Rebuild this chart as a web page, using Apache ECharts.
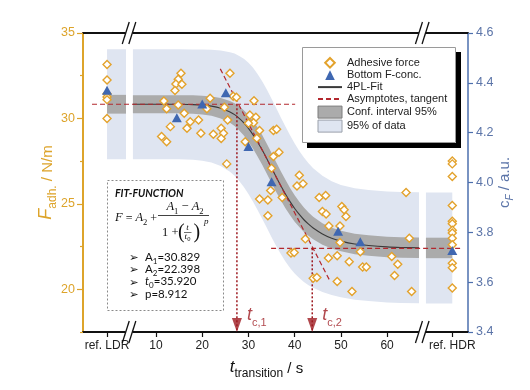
<!DOCTYPE html>
<html><head><meta charset="utf-8">
<script src="https://cdn.jsdelivr.net/npm/echarts@6/dist/echarts.min.js"></script>
<style>html,body{margin:0;padding:0;background:#fff}#c{width:530px;height:390px}</style>
</head><body><div id="c"></div>
<script>
// ---- tick labels ----
const xTickValues = [-0.6, 10, 20, 30, 40, 50, 60, 74.1];
const xTickLabels = ['ref. LDR', '10', '20', '30', '40', '50', '60', 'ref. HDR'];
const yLeftTicks = [20, 25, 30, 35];
const yLeftMinor = [17.5, 22.5, 27.5, 32.5];
const tLDR = -0.6, tHDR = 74.1;
const breakT = [4.16, 67.6];

// ---- adhesive force (N/m) ----
const forceLDR = [33.15, 32.25, 31.45, 31.25, 31.1, 30.0];
const forceHDR = [27.51, 27.34, 26.60, 24.90, 23.98, 23.83, 23.45, 23.30, 22.99, 22.60, 21.52, 21.26, 20.07];
const forceT = [11.7,12.3,14.8,16.1,13.1,11.2,12.3,15.4,14.8,14.3,15.6,14.1,17.4,16.7,19.2,19.7,21.7,21.0,22.4,24.1,24.6,24.1,25.3,26.0,26.7,27.4,31.2,24.8,25.5,30.3,31.6,31.1,30.0,32.4,31.8,29.3,35.4,36.1,35.4,36.6,35.0,41.0,40.5,41.8,34.8,32.4,34.2,37.3,34.2,45.3,46.7,46.0,46.8,50.2,50.7,51.1,47.4,49.8,49.8,42.3,39.2,39.9,47.3,49.2,51.8,54.7,55.5,44.0,44.8,49.2,52.4,64.1,64.8,54.2,61.0,62.3,61.6,65.3];
const forceF = [31.02,30.56,30.79,30.30,29.52,28.94,28.64,32.64,32.29,32.02,32.00,31.63,29.80,29.43,29.91,29.13,31.18,30.56,29.08,29.43,29.13,28.82,27.34,32.64,31.30,31.24,31.04,30.65,29.91,30.20,30.07,29.75,29.72,29.29,28.84,28.64,29.29,29.37,27.77,28.02,27.09,26.68,26.05,26.17,25.78,25.29,25.23,25.37,24.30,25.37,25.49,24.55,24.40,24.84,24.65,24.26,23.71,23.71,22.74,22.95,22.12,22.15,21.83,21.96,21.61,21.30,21.30,20.65,20.69,20.46,19.87,25.66,22.99,22.19,21.92,21.47,20.81,19.87];

// ---- bottom F concentration (a.u.) ----
const concT = [-0.6, 14.5, 20.0, 25.1, 30.0, 35.0, 49.4, 54.2, 74.1];
const concC = [4.37, 4.26, 4.315, 4.36, 4.144, 4.003, 3.804, 3.762, 3.727];

// ---- 4PL fit curve and bands ----
const fitT = [5,10,15,18,20,22,24,26,27,28,29,30,31,32,33,34,35,36,37,38,39,40,41,42,43,44,46,48,50,53,56,60,63,66.9];
const fitF = [30.83,30.83,30.83,30.81,30.78,30.72,30.60,30.38,30.22,30.00,29.74,29.42,29.04,28.61,28.14,27.63,27.10,26.57,26.06,25.58,25.13,24.73,24.38,24.07,23.81,23.59,23.24,22.99,22.82,22.65,22.56,22.48,22.45,22.43];
const confHalf = [0.53,0.53,0.53,0.54,0.55,0.57,0.60,0.64,0.67,0.70,0.74,0.78,0.82,0.85,0.87,0.88,0.88,0.87,0.85,0.83,0.80,0.77,0.74,0.71,0.68,0.66,0.63,0.61,0.60,0.60,0.60,0.60,0.60,0.60];
const predHalf = [3.22,3.22,3.22,3.23,3.25,3.30,3.38,3.50,3.58,3.66,3.75,3.84,3.92,3.98,4.02,4.05,4.05,4.04,4.00,3.95,3.88,3.80,3.72,3.64,3.57,3.50,3.40,3.33,3.29,3.26,3.25,3.25,3.25,3.25];
const ldrSpan = [-0.6, 3.5], hdrSpan = [68.4, 74.1];
const ldrLevel = 30.83, hdrLevel = 22.42;
const ldrConfHalf = 0.55, hdrConfHalf = 0.6, ldrPredHalf = 3.22, hdrPredHalf = 3.25;

// ---- asymptotes, tangent, transition times ----
const asymUpper = 30.829, asymLower = 22.398;
const asymUpperSpan = [-3.85, 40.1], asymLowerSpan = [34.9, 76.2];
const tangentT = [23.9, 47.7], tangentF = [32.9, 20.45];
const tcT = [27.5, 43.8];
const tcNames = ['c,1', 'c,2'];

// ---- colours ----
const cOrange = '#E3A22C', cOrangeAxis = '#DDA42B', cBlue = '#3F67B1', cBlueAxis = '#4D6FAE', cBlueText = '#5B74A8';
const cRed = '#B3282E', cDarkRed = '#9E1A20';

function rectPoly(span, level, half) {
  return [[span[0], level - half], [span[1], level - half], [span[1], level + half], [span[0], level + half]];
}
function curvePoly(half) {
  const up = fitT.map((t, i) => [t, fitF[i] + half[i]]);
  const lo = fitT.map((t, i) => [t, fitF[i] - half[i]]).reverse();
  return up.concat(lo);
}
const predPolys = [rectPoly(ldrSpan, ldrLevel, ldrPredHalf), curvePoly(predHalf), rectPoly(hdrSpan, hdrLevel, hdrPredHalf)];
const confPolys = [rectPoly(ldrSpan, ldrLevel, ldrConfHalf), curvePoly(confHalf), rectPoly(hdrSpan, hdrLevel, hdrConfHalf)];

function bandSeries(name, polys, fill) {
  return {
    type: 'custom', name, coordinateSystem: 'cartesian2d', xAxisIndex: 0, yAxisIndex: 0,
    itemStyle: { color: fill }, silent: true, clip: false,
    data: polys.map(p => [p[0][0], p[0][1]]),
    renderItem: (params, api) => ({
      type: 'polygon',
      shape: { points: polys[params.dataIndex].map(pt => api.coord(pt)) },
      style: { fill: fill, stroke: null }
    })
  };
}

const forceData = forceLDR.map(f => [tLDR, f]).concat(forceT.map((t, i) => [t, forceF[i]])).concat(forceHDR.map(f => [tHDR, f]));
const concData = concT.map((t, i) => [t, concC[i]]);

const font = 'Liberation Sans';
const chart = echarts.init(document.getElementById('c'), null, { renderer: 'canvas' });

const dashed = { color: cRed, width: 1.2, type: [5, 3] };

const option = {
  animation: false,
  backgroundColor: '#fff',
  grid: { left: 83, right: 62, top: 33, bottom: 58 },
  xAxis: [{
    type: 'value', min: -5.8, max: 77.5,
    axisLine: { show: true, onZero: false, lineStyle: { color: '#111', width: 1.8 } },
    axisTick: { show: true, customValues: xTickValues, length: 5, lineStyle: { color: '#111', width: 1.2 } },
    axisLabel: { customValues: xTickValues, margin: 8, fontFamily: font, fontSize: 12, color: '#222',
      formatter: v => { const i = xTickValues.findIndex(x => Math.abs(x - v) < 1e-6); return i >= 0 ? xTickLabels[i] : ''; } },
    splitLine: { show: false },
    name: '{t|t}{s|transition}{n| / s}', nameLocation: 'middle', nameGap: 27, nameMoveOverlap: false,
    nameTextStyle: { padding: [0, 18, 0, 0], rich: {
      t: { fontFamily: font, fontStyle: 'italic', fontSize: 17, color: '#111', padding: [0, 0, 4, 0], verticalAlign: 'bottom' },
      s: { fontFamily: font, fontSize: 12, color: '#111', verticalAlign: 'bottom' },
      n: { fontFamily: font, fontSize: 15, color: '#111', padding: [0, 0, 4, 0], verticalAlign: 'bottom' } } }
  }, {
    type: 'value', min: -5.8, max: 77.5, position: 'top',
    axisLine: { show: true, onZero: false, lineStyle: { color: '#111', width: 1.8 } },
    axisTick: { show: false }, axisLabel: { show: false }, splitLine: { show: false }
  }],
  yAxis: [{
    type: 'value', min: 17.5, max: 35, position: 'left',
    axisLine: { show: true, onZero: false, lineStyle: { color: cOrangeAxis, width: 2 } },
    axisTick: { show: true, customValues: yLeftTicks, length: 6, lineStyle: { color: cOrangeAxis, width: 1.2 } },
    axisLabel: { customValues: yLeftTicks, margin: 8, fontFamily: font, fontSize: 12.5, color: cOrangeAxis },
    splitLine: { show: false },
    name: '{f|F}{s|adh.}{n| / N/m}', nameLocation: 'middle', nameRotate: 90, nameGap: 24, nameMoveOverlap: false,
    nameTextStyle: { rich: {
      f: { fontFamily: font, fontStyle: 'italic', fontSize: 18, color: cOrangeAxis, padding: [0, 0, 4, 0], verticalAlign: 'bottom' },
      s: { fontFamily: font, fontSize: 12, color: cOrangeAxis, verticalAlign: 'bottom' },
      n: { fontFamily: font, fontSize: 15, color: cOrangeAxis, padding: [0, 0, 4, 0], verticalAlign: 'bottom' } } }
  }, {
    type: 'value', min: 3.4, max: 4.6, interval: 0.2, position: 'right',
    axisLine: { show: true, onZero: false, lineStyle: { color: cBlueAxis, width: 1.5 } },
    axisTick: { show: true, length: 5, lineStyle: { color: cBlueAxis, width: 1.2 } },
    axisLabel: { margin: 8, fontFamily: font, fontSize: 12.5, color: cBlueText, formatter: v => v.toFixed(1) },
    splitLine: { show: false },
    name: '{c|c}{s|F}{n| / a.u.}', nameLocation: 'middle', nameRotate: 90, nameGap: 29, nameMoveOverlap: false,
    nameTextStyle: { rich: {
      c: { fontFamily: font, fontSize: 15, color: cBlueText, padding: [0, 0, 3, 0], verticalAlign: 'bottom' },
      s: { fontFamily: font, fontStyle: 'italic', fontSize: 10, color: cBlueText, verticalAlign: 'bottom' },
      n: { fontFamily: font, fontSize: 15, color: cBlueText, padding: [0, 0, 3, 0], verticalAlign: 'bottom' } } }
  }, {
    type: 'value', min: 17.5, max: 35, position: 'left',
    axisLine: { show: false, onZero: false },
    axisTick: { show: true, customValues: yLeftMinor, length: 3, lineStyle: { color: cOrangeAxis, width: 1.2 } },
    axisLabel: { show: false }, splitLine: { show: false }
  }],
  legend: {
    left: 302, top: 47, orient: 'vertical', z: 20,
    itemWidth: 24, itemHeight: 12, itemGap: 1,
    padding: [10, 8, 8, 15],
    backgroundColor: 'rgba(0,0,0,0)', borderWidth: 0,
    textStyle: { fontFamily: font, fontSize: 11, color: '#222' },
    selectedMode: false,
    data: [
      { name: 'Adhesive force' },
      { name: 'Bottom F-conc.' },
      { name: '4PL-Fit', itemStyle: { opacity: 0 } },
      { name: 'Asymptotes, tangent', itemStyle: { opacity: 0 } },
      { name: 'Conf. interval 95%', icon: 'rect', itemStyle: { color: '#ababab', borderColor: '#7c7c7c', borderWidth: 1, opacity: 1 } },
      { name: '95% of data', icon: 'rect', itemStyle: { color: '#dfe5f1', borderColor: '#9aa0aa', borderWidth: 1, opacity: 1 } }
    ]
  },
  series: [
    bandSeries('95% of data', predPolys, '#DFE5F1'),
    bandSeries('Conf. interval 95%', confPolys, '#ABABAB'),
    { type: 'line', name: '4PL-Fit', data: fitT.map((t, i) => [t, fitF[i]]), smooth: 0.3, symbol: 'none',
      lineStyle: { color: '#3a3a3a', width: 1.1 }, itemStyle: { color: '#3a3a3a' }, silent: true },
    { type: 'line', name: 'Asymptotes, tangent', data: asymUpperSpan.map(t => [t, asymUpper]), symbol: 'none', lineStyle: dashed, itemStyle: { color: cRed }, silent: true },
    { type: 'line', name: 'Asymptotes, tangent', data: asymLowerSpan.map(t => [t, asymLower]), symbol: 'none', lineStyle: dashed, itemStyle: { color: cRed }, silent: true },
    { type: 'line', name: 'Asymptotes, tangent', data: tangentT.map((t, i) => [t, tangentF[i]]), symbol: 'none', lineStyle: dashed, itemStyle: { color: cRed }, silent: true },
    { type: 'line', name: 'tc1', data: [[tcT[0], asymUpper], [tcT[0], 17.5]], symbol: 'none', lineStyle: { color: cDarkRed, width: 1.5, type: [2, 2] }, silent: true },
    { type: 'line', name: 'tc2', data: [[tcT[1], asymLower], [tcT[1], 17.5]], symbol: 'none', lineStyle: { color: cDarkRed, width: 1.5, type: [2, 2] }, silent: true },
    { type: 'scatter', name: 'tc-arrows', silent: true, clip: false,
      symbol: 'path://M0,0L10,0L5,14Z', symbolSize: [10, 14], symbolKeepAspect: false, symbolOffset: [0, -7],
      itemStyle: { color: cDarkRed },
      data: tcT.map((t, i) => ({ value: [t, 17.5], label: { formatter: '{t|t}{s|' + tcNames[i] + '}' } })),
      label: { show: true, position: 'right', distance: 5, offset: [0, -8], rich: {
        t: { fontFamily: font, fontStyle: 'italic', fontSize: 18, color: cDarkRed, padding: [0, 0, 4, 0], verticalAlign: 'bottom' },
        s: { fontFamily: font, fontSize: 11, color: cDarkRed, verticalAlign: 'bottom' } } } },
    { type: 'line', name: 'Adhesive force', data: forceData, symbol: 'diamond', symbolSize: 8, showSymbol: true, showAllSymbol: true,
      lineStyle: { width: 0, opacity: 0 }, itemStyle: { color: '#fff', borderColor: cOrange, borderWidth: 1.4 }, silent: true },
    { type: 'line', name: 'Bottom F-conc.', yAxisIndex: 1, data: concData, symbol: 'triangle', symbolSize: [10, 9], showSymbol: true, showAllSymbol: true,
      lineStyle: { width: 0, opacity: 0 }, itemStyle: { color: cBlue }, silent: true }
  ]
};
chart.setOption(option);

// ---- annotations: axis breaks, legend box and fit-function box ----
const g = [];
const yTop = chart.convertToPixel({ yAxisIndex: 0 }, 35);
const yBot = chart.convertToPixel({ yAxisIndex: 0 }, 17.5);
breakT.forEach(bt => {
  const cx = chart.convertToPixel({ xAxisIndex: 0 }, bt);
  [yTop, yBot].forEach(cy => {
    g.push({ type: 'rect', shape: { x: cx - 3.3, y: cy - 2.5, width: 6.6, height: 5 }, style: { fill: '#fff' }, z: 100 });
    [-3.3, 3.3].forEach(d => g.push({ type: 'line', shape: { x1: cx + d - 3.5, y1: cy + 11, x2: cx + d + 3.5, y2: cy - 11 },
      style: { stroke: '#111', lineWidth: 1.3 }, z: 101 }));
  });
});
// legend frame with solid drop shadow
g.push({ type: 'rect', z: 18, shape: { x: 302.5, y: 47.5, width: 153, height: 95 }, style: { fill: '#fff', stroke: '#9a9a9a', lineWidth: 1 } });
g.push({ type: 'rect', z: 200, shape: { x: 307, y: 143, width: 154, height: 5 }, style: { fill: '#000', stroke: null } });
g.push({ type: 'rect', z: 200, shape: { x: 456, y: 52, width: 5, height: 96 }, style: { fill: '#000', stroke: null } });

const serif = 'Liberation Serif';
const box = { type: 'group', z: 50, children: [
  { type: 'rect', shape: { x: 107.5, y: 180.5, width: 116, height: 130 }, style: { fill: '#fff', stroke: '#8a8a8a', lineWidth: 1, lineDash: [2, 2] } },
  { type: 'text', x: 115, y: 194, style: { text: 'FIT-FUNCTION', font: 'italic bold 10.5px Lato', fill: '#111', verticalAlign: 'middle' } },
  { type: 'text', x: 115, y: 219, style: { text: '{i|F} = {i|A}{s|2} +', verticalAlign: 'middle', font: '12px ' + serif, fill: '#111',
      rich: { i: { fontFamily: serif, fontStyle: 'italic', fontSize: 12.5, padding: [0, 0, 3, 0], verticalAlign: 'bottom' },
              s: { fontFamily: serif, fontSize: 8.5, verticalAlign: 'bottom' } } } },
  { type: 'text', x: 185, y: 208, style: { text: '{i|A}{s|1}{o| − }{i|A}{s|2}', align: 'center', verticalAlign: 'middle', fill: '#111',
      rich: { i: { fontFamily: serif, fontStyle: 'italic', fontSize: 12.5, padding: [0, 0, 3, 0], verticalAlign: 'bottom' },
              s: { fontFamily: serif, fontSize: 8.5, verticalAlign: 'bottom' },
              o: { fontFamily: serif, fontSize: 12.5, padding: [0, 0, 3, 0], verticalAlign: 'bottom' } } } },
  { type: 'line', shape: { x1: 158, y1: 215.5, x2: 209, y2: 215.5 }, style: { stroke: '#111', lineWidth: 0.8 } },
  { type: 'text', x: 162, y: 233, style: { text: '1 +', font: '12.5px ' + serif, fill: '#111', verticalAlign: 'middle' } },
  { type: 'text', x: 178, y: 233, style: { text: '(', font: '20px ' + serif, fill: '#111', verticalAlign: 'middle' } },
  { type: 'text', x: 187.5, y: 228, style: { text: 't', font: 'italic 9px ' + serif, fill: '#111', align: 'center', verticalAlign: 'middle' } },
  { type: 'line', shape: { x1: 184, y1: 232.5, x2: 191.5, y2: 232.5 }, style: { stroke: '#111', lineWidth: 0.6 } },
  { type: 'text', x: 187.5, y: 237.5, style: { text: '{i|t}{s|0}', align: 'center', verticalAlign: 'middle', fill: '#111',
      rich: { i: { fontFamily: serif, fontStyle: 'italic', fontSize: 9, padding: [0, 0, 2, 0], verticalAlign: 'bottom' }, s: { fontFamily: serif, fontSize: 6.5, verticalAlign: 'bottom' } } } },
  { type: 'text', x: 193.5, y: 233, style: { text: ')', font: '20px ' + serif, fill: '#111', verticalAlign: 'middle' } },
  { type: 'text', x: 204, y: 222, style: { text: 'p', font: 'italic 9px ' + serif, fill: '#111', verticalAlign: 'middle' } }
] };
const params = [['A', '1', '=30.829', false], ['A', '2', '=22.398', false], ['t', '0', '=35.920', true], ['p', '', '=8.912', false]];
params.forEach((p, i) => {
  const y = 258 + i * 12.3;
  box.children.push({ type: 'text', x: 129, y: y, style: { text: '➢', font: '11.5px DejaVu Sans', fill: '#111', verticalAlign: 'middle' } });
  box.children.push({ type: 'text', x: 145, y: y, style: {
    text: '{' + (p[3] ? 'it' : 'b') + '|' + p[0] + '}' + (p[1] ? '{s|' + p[1] + '}' : '') + '{b|' + p[2] + '}',
    verticalAlign: 'middle', fill: '#111',
    rich: { b: { fontFamily: 'Lato', fontSize: 11.5, padding: [0, 0, 2, 0], verticalAlign: 'bottom' },
            it: { fontFamily: 'Lato', fontStyle: 'italic', fontSize: 11.5, padding: [0, 0, 2, 0], verticalAlign: 'bottom' },
            s: { fontFamily: 'Lato', fontSize: 8, verticalAlign: 'bottom' } } } });
});
g.push(box);
chart.setOption({ graphic: g });
</script>
</body></html>
